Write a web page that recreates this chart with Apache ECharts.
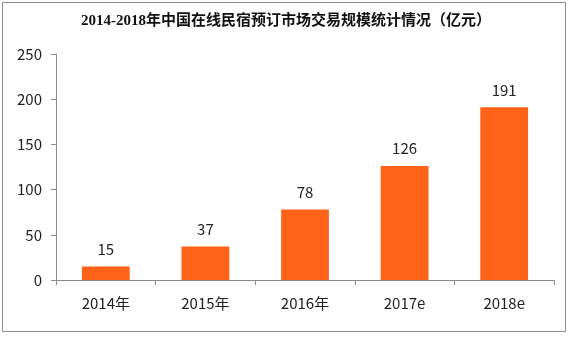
<!DOCTYPE html>
<html>
<head>
<meta charset="utf-8">
<script src="https://cdn.jsdelivr.net/npm/echarts@6/dist/echarts.min.js"></script>
<style>
  html, body { margin: 0; padding: 0; background: #fff; }
  #chart { width: 572px; height: 337px; }
</style>
</head>
<body>
<div id="chart"></div>
<script>
// Online homestay booking market size in China, 2014-2018 (100 million yuan)
const titleText = '2014-2018年中国在线民宿预订市场交易规模统计情况（亿元）';
const years = ['2014年', '2015年', '2016年', '2017e', '2018e'];
const marketSize = [15, 37, 78, 126, 191];
const yTicks = { min: 0, max: 250, interval: 50 };

const chart = echarts.init(document.getElementById('chart'), null, { renderer: 'canvas' });

const labelFont = '"Noto Sans CJK SC", "Noto Sans", sans-serif';

chart.setOption({
  backgroundColor: '#ffffff',
  animation: false,
  title: {
    text: titleText,
    left: 'center',
    top: 9,
    textStyle: {
      fontFamily: '"Liberation Serif", "Noto Sans CJK SC", serif',
      fontSize: 15,
      fontWeight: 'bold',
      color: '#111'
    }
  },
  graphic: [{
    type: 'rect',
    shape: { x: 2.5, y: 2.5, width: 563, height: 329 },
    style: { fill: 'none', stroke: '#8c8c8c', lineWidth: 1 },
    silent: true
  }],
  grid: { left: 56, right: 18, top: 54, bottom: 57 },
  xAxis: {
    type: 'category',
    data: years,
    axisLine: { lineStyle: { color: '#8c8c8c', width: 1 } },
    axisTick: { show: true, length: 5, lineStyle: { color: '#8c8c8c' } },
    axisLabel: {
      margin: 16,
      fontSize: 15,
      fontFamily: labelFont,
      color: '#222'
    }
  },
  yAxis: {
    type: 'value',
    min: yTicks.min,
    max: yTicks.max,
    interval: yTicks.interval,
    splitLine: { show: false },
    axisLine: { show: true, lineStyle: { color: '#8c8c8c', width: 1 } },
    axisTick: { show: true, length: 5, lineStyle: { color: '#8c8c8c' } },
    axisLabel: {
      margin: 14,
      fontSize: 15,
      fontFamily: labelFont,
      color: '#222'
    }
  },
  series: [{
    type: 'bar',
    data: marketSize,
    barWidth: '48%',
    itemStyle: { color: '#FF6319' },
    label: {
      show: true,
      position: 'top',
      distance: 10,
      fontSize: 15,
      fontFamily: labelFont,
      color: '#222'
    }
  }]
});
</script>
</body>
</html>
